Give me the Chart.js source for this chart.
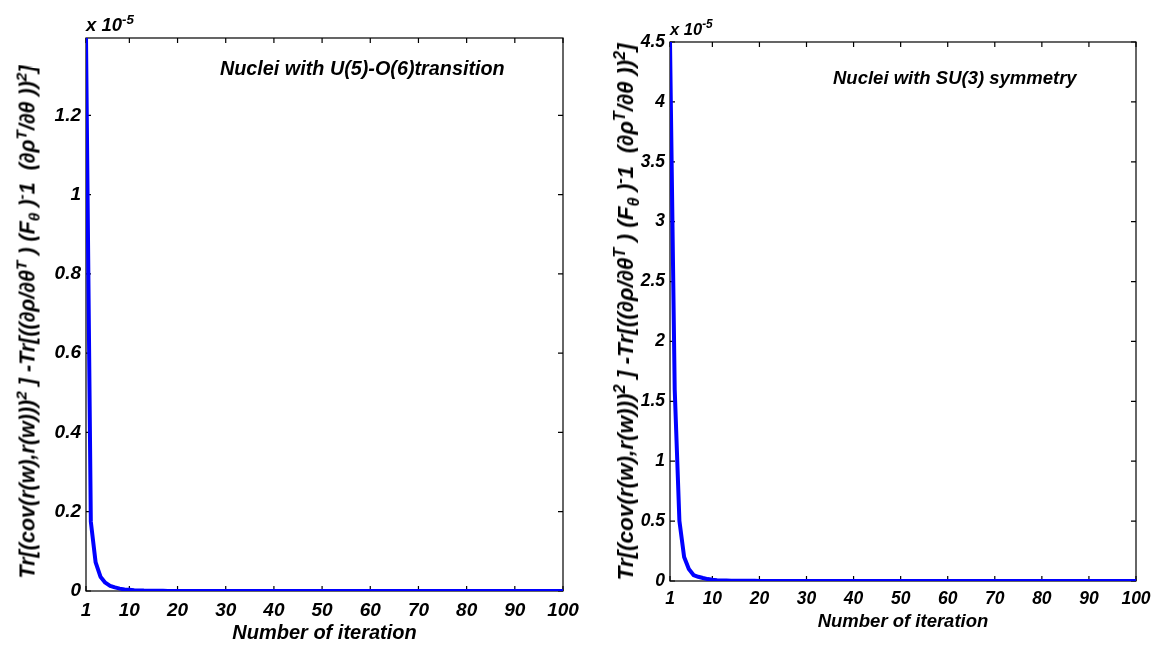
<!DOCTYPE html>
<html>
<head>
<meta charset="utf-8">
<script src="https://cdn.jsdelivr.net/npm/chart.js@4.4.1/dist/chart.umd.min.js"></script>
<style>
  body { margin: 0; background: #fff; }
  #page { position: relative; width: 1160px; height: 650px; overflow: hidden;
          font-family: 'Liberation Sans', Arial, sans-serif; font-weight: bold; font-style: italic; color: #000; }
  canvas { position: absolute; top: 0; }
  .lbl { position: absolute; white-space: nowrap; transform: translateY(-50%); }
  .ytitle { position: absolute; white-space: nowrap; transform: translate(-50%, -50%) rotate(-90deg); }
  sup, sub { font-size: 72%; line-height: 0; }
</style>
</head>
<body>
<div id="page">
  <canvas id="leftChart" width="580" height="650" style="left:0"></canvas>
  <canvas id="rightChart" width="580" height="650" style="left:580px"></canvas>

  <div class="lbl" style="left:86px; top:25px; font-size:18.5px">x 10<sup>-5</sup></div>
  <div class="lbl" style="left:670px; top:29px; font-size:16.5px">x 10<sup>-5</sup></div>

  <div class="lbl" style="left:220px; top:68px; font-size:19.8px">Nuclei with U(5)-O(6)transition</div>
  <div class="lbl" style="left:833px; top:78px; font-size:18.5px">Nuclei with SU(3) symmetry</div>

  <div class="ytitle" style="left:28px; top:322px; font-size:21.5px">Tr[(cov(r(w),r(w)))<sup>2</sup> ] -Tr[((∂ρ/∂θ<sup>T</sup> ) (F<sub>θ</sub> )<sup>-</sup>1&nbsp; (∂ρ<sup>T</sup>/∂θ ))<sup>2</sup>]</div>
  <div class="ytitle" style="left:626px; top:312px; font-size:22.5px">Tr[(cov(r(w),r(w)))<sup>2</sup> ] -Tr[((∂ρ/∂θ<sup>T</sup> ) (F<sub>θ</sub> )<sup>-</sup>1&nbsp; (∂ρ<sup>T</sup>/∂θ ))<sup>2</sup>]</div>
</div>

<script>
// iteration numbers (x axis)
const iterations = [1,2,3,4,5,6,7,8,9,10,11,12,13,14,15,16,17,18,19,20,
  21,22,23,24,25,26,27,28,29,30,31,32,33,34,35,36,37,38,39,40,
  41,42,43,44,45,46,47,48,49,50,51,52,53,54,55,56,57,58,59,60,
  61,62,63,64,65,66,67,68,69,70,71,72,73,74,75,76,77,78,79,80,
  81,82,83,84,85,86,87,88,89,90,91,92,93,94,95,96,97,98,99,100];
const xTicks = [1, 10, 20, 30, 40, 50, 60, 70, 80, 90, 100];

// U(5)-O(6) nuclei, values in units of 1e-5
const leftValues = [1.395,0.175,0.072,0.036,0.021,0.013,0.009,0.006,0.004,0.003,
  0.002,0.0015,0.001,0.0008,0.0006,0.0005,0.0004,0.0003,0.0003,0.0002,
  0.0002,0.0002,0.0001,0.0001,0.0001,0.0001,0.0001,0,0,0,
  0,0,0,0,0,0,0,0,0,0,0,0,0,0,0,0,0,0,0,0,
  0,0,0,0,0,0,0,0,0,0,0,0,0,0,0,0,0,0,0,0,
  0,0,0,0,0,0,0,0,0,0,0,0,0,0,0,0,0,0,0,0,
  0,0,0,0,0,0,0,0,0,0];
const leftYTicks = [0, 0.2, 0.4, 0.6, 0.8, 1, 1.2];
const leftYMax = 1.395;

// SU(3) nuclei, values in units of 1e-5
const rightValues = [4.5,1.6,0.5,0.2,0.1,0.05,0.035,0.025,0.016,0.01,
  0.007,0.005,0.004,0.003,0.0025,0.002,0.002,0.0015,0.0015,0.001,
  0.001,0.001,0.0008,0.0008,0.0006,0.0005,0.0004,0.0003,0.0002,0.0001,
  0,0,0,0,0,0,0,0,0,0,0,0,0,0,0,0,0,0,0,0,
  0,0,0,0,0,0,0,0,0,0,0,0,0,0,0,0,0,0,0,0,
  0,0,0,0,0,0,0,0,0,0,0,0,0,0,0,0,0,0,0,0,
  0,0,0,0,0,0,0,0,0,0];
const rightYTicks = [0, 0.5, 1, 1.5, 2, 2.5, 3, 3.5, 4, 4.5];
const rightYMax = 4.5;

const FONT = "'Liberation Sans', Arial, sans-serif";

// matlab style box with inward ticks on all four sides
const boxPlugin = {
  id: 'box',
  beforeDatasetsDraw(chart) {
    const { ctx, chartArea: a, scales } = chart;
    ctx.save();
    ctx.strokeStyle = '#000';
    ctx.lineWidth = 1.2;
    ctx.strokeRect(a.left, a.top, a.right - a.left, a.bottom - a.top);
    ctx.beginPath();
    scales.x.ticks.forEach(t => {
      const px = scales.x.getPixelForValue(t.value);
      ctx.moveTo(px, a.bottom); ctx.lineTo(px, a.bottom - 5);
      ctx.moveTo(px, a.top); ctx.lineTo(px, a.top + 5);
    });
    scales.y.ticks.forEach(t => {
      const py = scales.y.getPixelForValue(t.value);
      ctx.moveTo(a.left, py); ctx.lineTo(a.left + 5, py);
      ctx.moveTo(a.right, py); ctx.lineTo(a.right - 5, py);
    });
    ctx.stroke();
    ctx.restore();
  }
};

function makeChart(id, values, yTicks, yMax, o) {
  const ctx = document.getElementById(id).getContext('2d');
  return new Chart(ctx, {
    type: 'line',
    data: {
      datasets: [{
        data: iterations.map((it, i) => ({ x: it, y: values[i] })),
        borderColor: '#0000ff',
        borderWidth: 4,
        pointRadius: 0,
        tension: 0,
        fill: false,
        borderJoinStyle: 'round'
      }]
    },
    plugins: [boxPlugin],
    options: {
      responsive: false,
      animation: false,
      devicePixelRatio: 1,
      layout: { padding: { left: 0, top: o.top, right: o.right, bottom: 0 } },
      plugins: { legend: { display: false }, tooltip: { enabled: false } },
      scales: {
        x: {
          type: 'linear',
          min: 1,
          max: 100,
          afterBuildTicks: s => { s.ticks = xTicks.map(v => ({ value: v })); },
          afterFit: s => { s.height = o.xHeight; s.paddingLeft = 0; s.paddingRight = 0; },
          grid: { display: false, drawTicks: false },
          border: { display: false },
          ticks: {
            autoSkip: false, maxRotation: 0, padding: o.xPad, color: '#000',
            font: { family: FONT, size: o.tickSize, weight: 'bold', style: 'italic' },
            callback: v => String(v)
          },
          title: {
            display: true, text: 'Number of iteration', color: '#000',
            padding: { top: 0, bottom: o.titlePad },
            font: { family: FONT, size: o.titleSize, weight: 'bold', style: 'italic' }
          }
        },
        y: {
          min: 0,
          max: yMax,
          afterBuildTicks: s => { s.ticks = yTicks.map(v => ({ value: v })); },
          afterFit: s => { s.width = o.yWidth; },
          grid: { display: false, drawTicks: false },
          border: { display: false },
          ticks: {
            padding: 5, color: '#000',
            font: { family: FONT, size: o.tickSize, weight: 'bold', style: 'italic' },
            callback: v => String(v)
          }
        }
      }
    }
  });
}

makeChart('leftChart', leftValues, leftYTicks, leftYMax,
  { top: 38, right: 17, xHeight: 59, yWidth: 86, xPad: 8, tickSize: 19, titleSize: 20, titlePad: 5 });
makeChart('rightChart', rightValues, rightYTicks, rightYMax,
  { top: 42, right: 24, xHeight: 69, yWidth: 90, xPad: 8, tickSize: 17.5, titleSize: 18.5, titlePad: 17 });
</script>
</body>
</html>
